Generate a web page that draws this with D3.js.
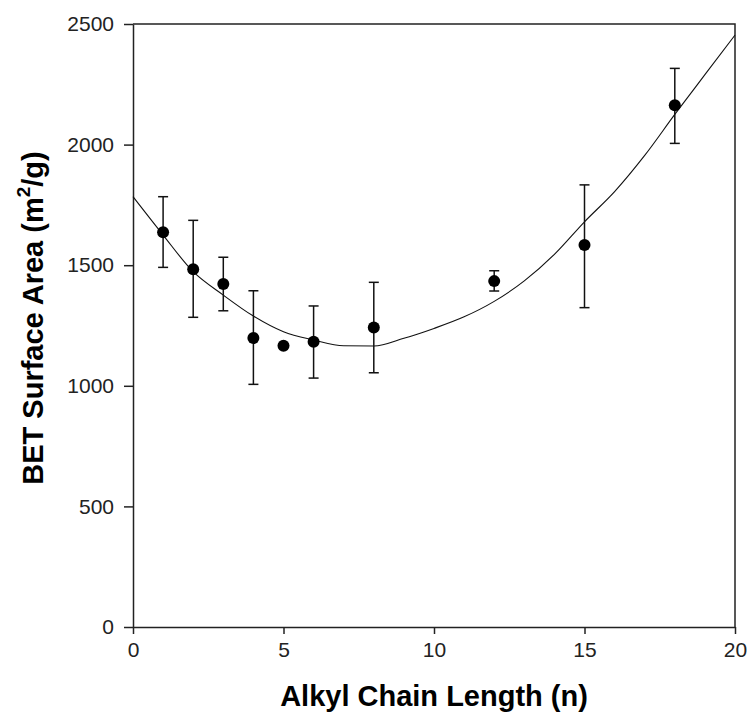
<!DOCTYPE html>
<html>
<head>
<meta charset="utf-8">
<script src="https://cdn.jsdelivr.net/npm/d3@7"></script>
<style>
  body { margin: 0; background: #fff; }
  text { font-family: "Liberation Sans", Arial, sans-serif; fill: #000; }
</style>
</head>
<body>
<svg id="chart" width="750" height="714"></svg>
<script>
// measured points
var chainLength = [1, 2, 3, 4, 5, 6, 8, 12, 15, 18];
var surfaceArea = [1637, 1483, 1422, 1198, 1166, 1183, 1242, 1434, 1584, 2163];
var errLow = [1491, 1284, 1311, 1006, null, 1032, 1054, 1393, 1324, 2005];
var errHigh = [1784, 1686, 1533, 1394, null, 1331, 1429, 1477, 1833, 2316];

// fitted curve
var fitX = [0, 1, 2, 3, 4, 5, 6, 7, 8, 9, 10, 11, 12, 13, 14, 15, 16, 17, 18, 19, 20];
var fitY = [1784, 1625, 1473, 1376, 1289, 1224, 1190, 1166, 1165, 1197, 1238, 1286, 1350, 1435, 1545, 1680, 1805, 1955, 2125, 2290, 2454];

var xTicks = [0, 5, 10, 15, 20];
var yTicks = [0, 500, 1000, 1500, 2000, 2500];

var margin = {top: 24, right: 15, bottom: 87, left: 133};
var W = 750, H = 714;
var w = W - margin.left - margin.right,
  h = H - margin.top - margin.bottom;

var svg = d3.select('#chart');
var g = svg.append('g')
  .attr('transform', 'translate(' + margin.left + ',' + margin.top + ')');

var x = d3.scaleLinear().domain([0, 20]).range([0, w]);
var y = d3.scaleLinear().domain([0, 2500]).range([h, 0]);

// frame (top + right)
g.append('path')
  .attr('d', 'M0,0H' + w + 'V' + h)
  .attr('fill', 'none')
  .attr('stroke', '#222')
  .attr('stroke-width', 1.5);

var xAxis = g.append('g')
  .attr('transform', 'translate(0,' + h + ')')
  .call(d3.axisBottom(x).tickValues(xTicks).tickFormat(d3.format('d'))
    .tickSize(7).tickPadding(8).tickSizeOuter(0));

var yAxis = g.append('g')
  .call(d3.axisLeft(y).tickValues(yTicks).tickFormat(d3.format('d'))
    .tickSize(9).tickPadding(10).tickSizeOuter(0));

[xAxis, yAxis].forEach(function(a) {
  a.attr('font-size', null).attr('font-family', null);
  a.select('.domain').attr('stroke', '#222').attr('stroke-width', 1.5);
  a.selectAll('.tick line').attr('stroke', '#222').attr('stroke-width', 1.5);
  a.selectAll('.tick text')
    .style('font-size', '21px')
    .style('fill', '#222');
});

// fit line
var line = d3.line()
  .x(function(d, i) { return x(fitX[i]); })
  .y(function(d) { return y(d); })
  .curve(d3.curveMonotoneX);

g.append('path')
  .datum(fitY)
  .attr('d', line)
  .attr('fill', 'none')
  .attr('stroke', '#111')
  .attr('stroke-width', 1.1);

// error bars
var pts = chainLength.map(function(n, i) {
  return {n: n, v: surfaceArea[i], lo: errLow[i], hi: errHigh[i]};
});

var eb = g.selectAll('.err')
  .data(pts.filter(function(d) { return d.lo !== null; }))
  .enter().append('g')
  .attr('class', 'err')
  .attr('stroke', '#111')
  .attr('stroke-width', 1.5);

eb.append('line')
  .attr('x1', function(d) { return x(d.n); })
  .attr('x2', function(d) { return x(d.n); })
  .attr('y1', function(d) { return y(d.lo); })
  .attr('y2', function(d) { return y(d.hi); });
eb.append('line')
  .attr('x1', function(d) { return x(d.n) - 5; })
  .attr('x2', function(d) { return x(d.n) + 5; })
  .attr('y1', function(d) { return y(d.hi); })
  .attr('y2', function(d) { return y(d.hi); });
eb.append('line')
  .attr('x1', function(d) { return x(d.n) - 5; })
  .attr('x2', function(d) { return x(d.n) + 5; })
  .attr('y1', function(d) { return y(d.lo); })
  .attr('y2', function(d) { return y(d.lo); });

g.selectAll('.pt')
  .data(pts)
  .enter().append('circle')
  .attr('class', 'pt')
  .attr('cx', function(d) { return x(d.n); })
  .attr('cy', function(d) { return y(d.v); })
  .attr('r', 6)
  .attr('fill', '#000');

// axis titles
svg.append('text')
  .attr('x', 434)
  .attr('y', 706)
  .attr('text-anchor', 'middle')
  .style('font-size', '29px')
  .style('font-weight', 'bold')
  .text('Alkyl Chain Length (n)');

var yt = svg.append('text')
  .attr('transform', 'translate(43,318) rotate(-90)')
  .attr('text-anchor', 'middle')
  .style('font-size', '29px')
  .style('font-weight', 'bold');
yt.append('tspan').text('BET Surface Area (m');
yt.append('tspan').attr('dy', -13).style('font-size', '19px').text('2');
yt.append('tspan').attr('dy', 13).text('/g)');
</script>
</body>
</html>
